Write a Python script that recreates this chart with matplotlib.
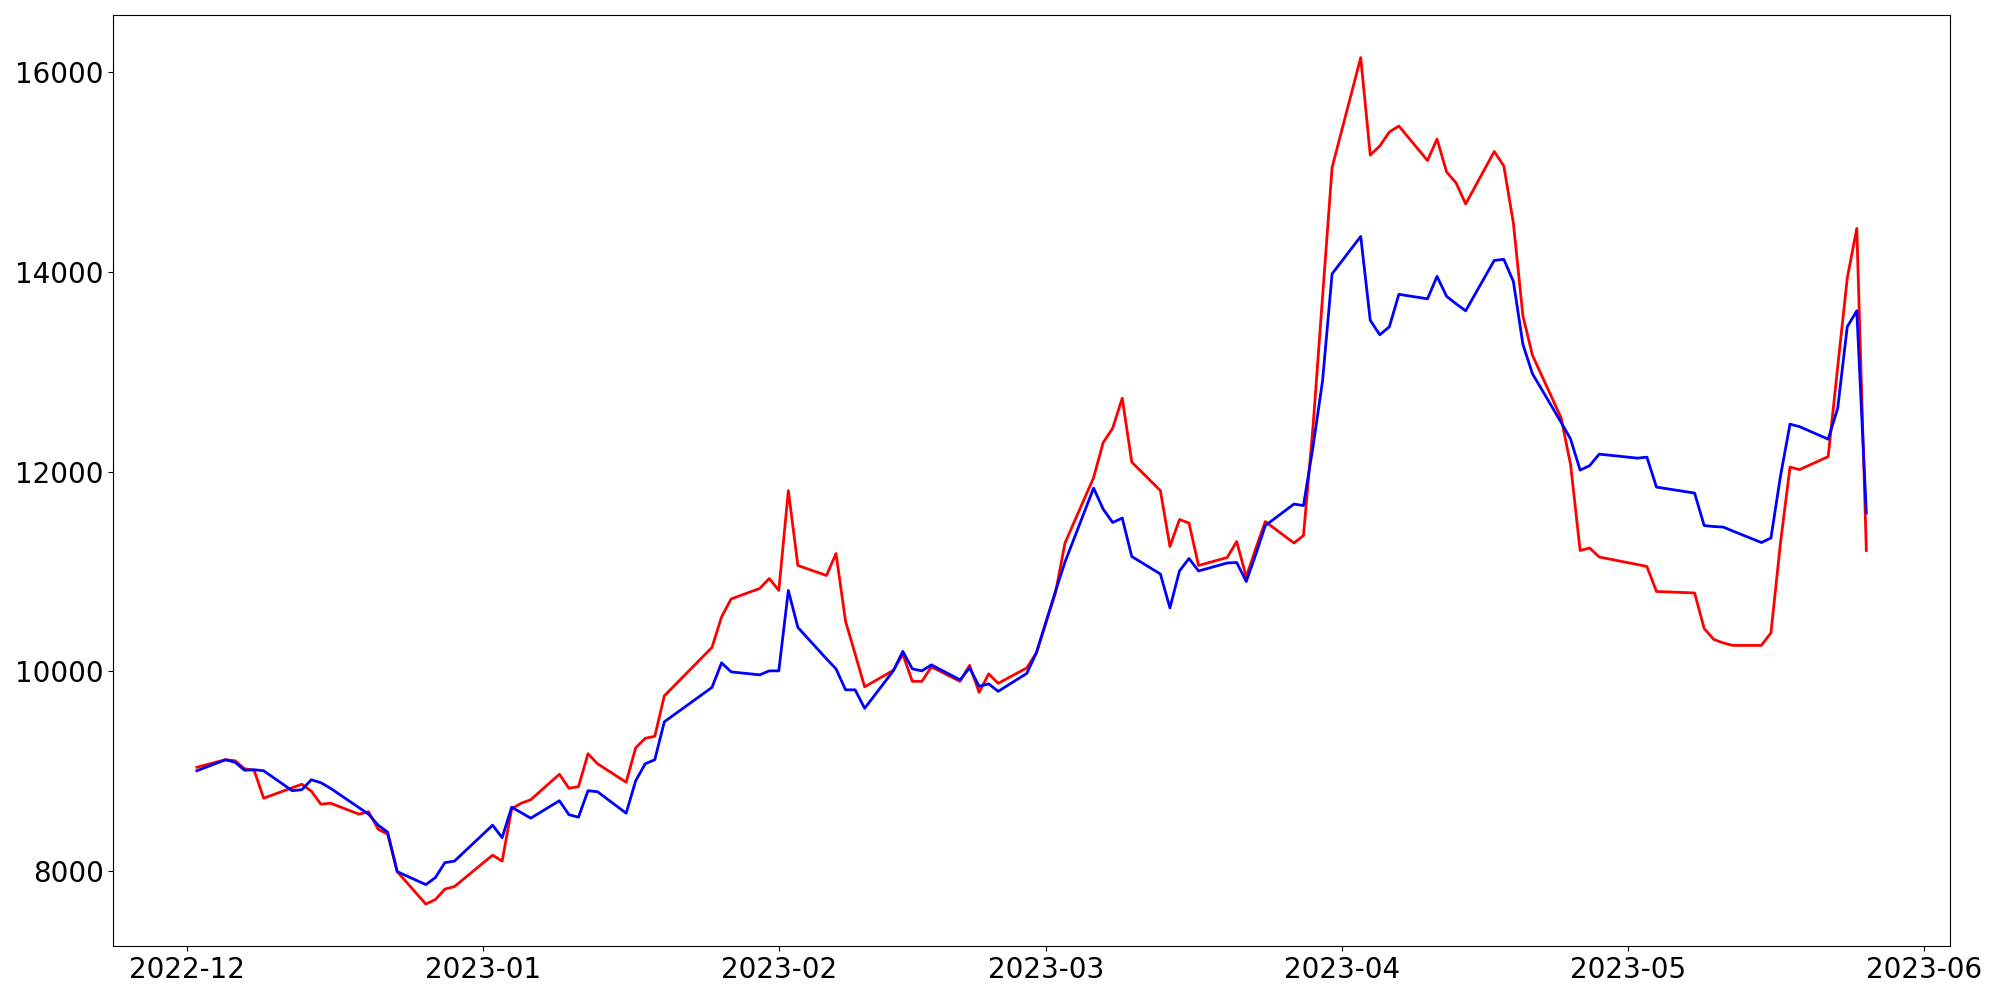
import pandas as pd
import matplotlib
matplotlib.use('Agg')
import matplotlib.pyplot as plt

# trading days (KRX calendar), Dec 2022 - May 2023
holidays = ['2022-12-30', '2023-01-23', '2023-01-24',
            '2023-03-01', '2023-05-01', '2023-05-05']
dates = pd.bdate_range('2022-12-02', '2023-05-26', freq='C', holidays=holidays)

red_values = [
    # Dec
    9040, 9115, 9105, 9025, 9010, 8730, 8835, 8870, 8800, 8670,
    8680, 8570, 8595, 8420, 8370, 7995, 7670, 7715, 7820, 7845,
    # Jan
    8160, 8100, 8625, 8680, 8715, 8970, 8830, 8845, 9175, 9075,
    8890, 9235, 9330, 9350, 9755, 10240, 10545, 10725, 10830, 10930,
    # Feb
    10810, 11810, 11060, 10960, 11180, 10500, 10175, 9845, 10010, 10170,
    9900, 9900, 10045, 9900, 10060, 9790, 9975, 9880, 10035, 10185,
    # Mar
    10785, 11285, 11940, 12290, 12435, 12735, 12095, 11810, 11250, 11520,
    11485, 11060, 11140, 11300, 10945, 11230, 11500, 11285, 11360, 12450,
    13750, 15045,
    # Apr
    16145, 15170, 15260, 15400, 15460, 15115, 15330, 15000, 14890, 14680,
    15205, 15060, 14490, 13560, 13165, 12540, 12070, 11210, 11235, 11145,
    # May
    11070, 11050, 10800, 10785, 10430, 10320, 10285, 10260, 10260, 10385,
    11285, 12045, 12020, 12150, 13050, 13935, 14435, 11210,
]

blue_values = [
    # Dec
    9005, 9115, 9090, 9010, 9015, 9005, 8805, 8815, 8915, 8885,
    8830, 8635, 8570, 8460, 8390, 7995, 7865, 7935, 8085, 8100,
    # Jan
    8460, 8335, 8640, 8585, 8530, 8705, 8565, 8540, 8805, 8795,
    8580, 8905, 9075, 9115, 9495, 9840, 10085, 9995, 9965, 10005,
    # Feb
    10005, 10810, 10440, 10125, 10025, 9815, 9815, 9630, 10005, 10200,
    10025, 10005, 10065, 9915, 10035, 9850, 9875, 9800, 9980, 10185,
    # Mar
    10800, 11095, 11835, 11625, 11490, 11535, 11150, 10975, 10635, 11005,
    11130, 11005, 11085, 11090, 10900, 11170, 11460, 11675, 11660, 12250,
    12910, 13980,
    # Apr
    14355, 13515, 13370, 13450, 13775, 13730, 13955, 13755, 13680, 13610,
    14115, 14125, 13905, 13275, 12980, 12495, 12325, 12015, 12060, 12175,
    # May
    12135, 12145, 11845, 11785, 11460, 11450, 11445, 11405, 11290, 11335,
    11955, 12475, 12450, 12325, 12635, 13450, 13610, 11585,
]

fig = plt.figure(figsize=(20, 10), dpi=100)
ax = fig.add_axes([0.0567, 0.0536, 0.9182, 0.9311])

ax.plot(dates, red_values, color='red', linewidth=2)
ax.plot(dates, blue_values, color='blue', linewidth=2)

ax.tick_params(axis='both', labelsize=20)

fig.savefig('out.png', dpi=100)
